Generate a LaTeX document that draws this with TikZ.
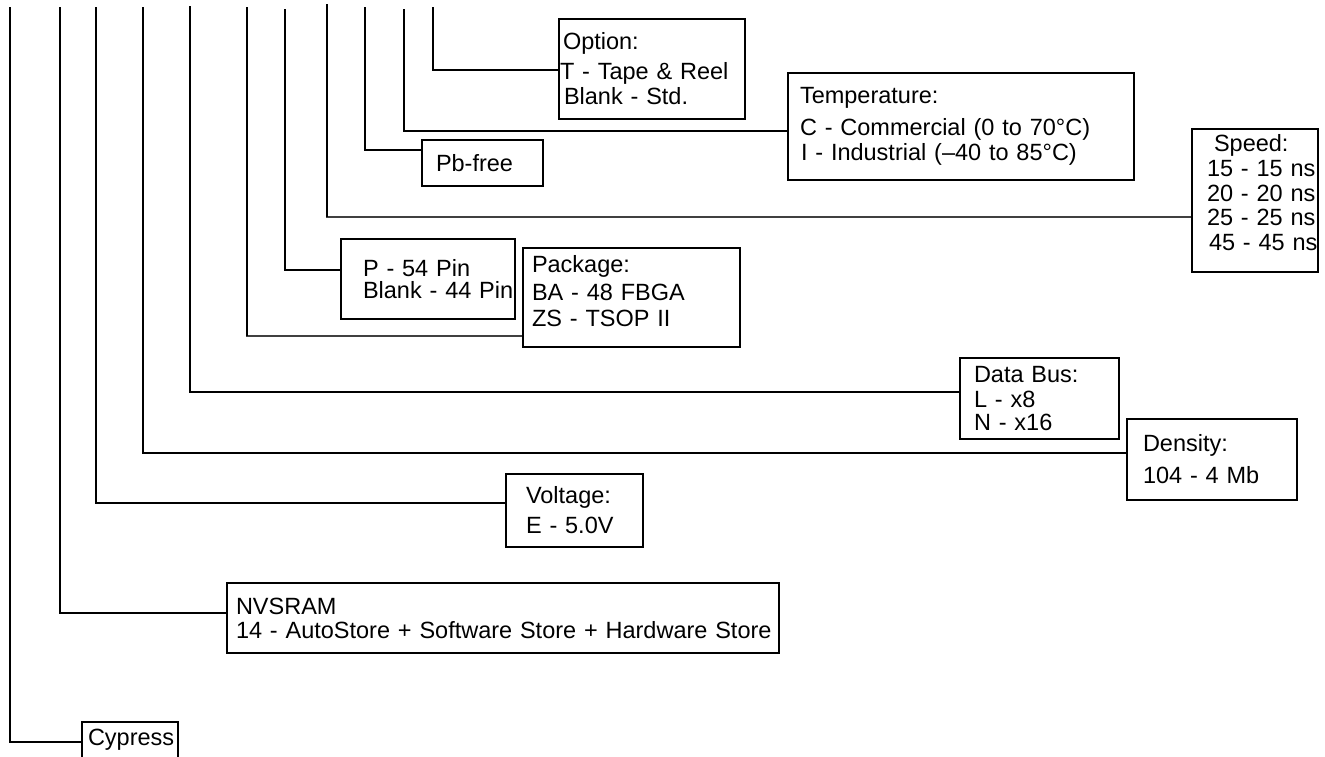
\documentclass[tikz,border=0pt]{standalone}
\usepackage{fontspec}
\setmainfont{Liberation Sans}

\def\rulewd{2.5pt}
\def\pad#1{\hspace*{#1pt}}

\begin{document}
\begin{tikzpicture}[x=1pt,y=-1pt,line width=\rulewd,
	every node/.append style={font=\fontsize{23.5}{25}\selectfont}]
    \tikzstyle{field}=[draw=black,rectangle,align=left,inner sep=0pt,line width=\rulewd]
    \tikzstyle{lead}=[draw=black,line width=\rulewd]
    \tikzstyle{thin lead}=[lead,line width=1.2pt,draw=black!75]

    \useasboundingbox (0,0) rectangle (1325,756);

    % Tops of the leads, left to right
    \foreach \name/\x/\y in {cy/10/7,nv/60/7,vo/96/7,de/143/7,db/190/6,pk/247/7,pn/285/9,sp/327/4,pb/365/7,te/404/9,op/433/7}
        \coordinate (top-\name) at (\x,\y);

    % Draw the field boxes
    \node[field, text width=186pt, minimum height=100pt] (option) at (652,69)
        {\pad{4}Option:\\[5pt]\pad{1}T - Tape \& Reel\\ \pad{5}Blank - Std.};
    \node[field, text width=346pt, minimum height=107pt] (temp) at (961,126.5)
        {\pad{12}Temperature:\\[7pt]\pad{12}C - Commercial (0 to 70°C)\\ \pad{13}I - Industrial (–40 to 85°C)};
    \node[field, text width=121pt, minimum height=46pt] (pbfree) at (482.5,163) {\pad{14}Pb-free};
    \node[field, text width=126pt, minimum height=143pt, text depth=115pt] (speed) at (1255,200.5)
        {\pad{22}Speed:\\ \pad{15}15 - 15 ns\\ \pad{15}20 - 20 ns\\[-1pt]
         \pad{15}25 - 25 ns\\ \pad{17}45 - 45 ns};
    \node[field, text width=174pt, minimum height=80pt] (pins) at (428,279)
        {\pad{22}P - 54 Pin\\[-3.5pt]\pad{22}Blank - 44 Pin};
    \node[field, text width=217pt, minimum height=99pt, text depth=68pt] (package) at (631.5,297.5)
        {\pad{9}Package:\\[3pt]\pad{9}BA - 48 FBGA\\[1pt]\pad{9}ZS - TSOP II};
    \node[field, text width=159pt, minimum height=81pt] (databus) at (1039.5,398.5)
        {\pad{14}Data Bus:\\ \pad{14}L - x8\\[-2pt]\pad{14}N - x16};
    \node[field, text width=170pt, minimum height=81pt] (density) at (1212,459.5)
        {\pad{16}Density:\\[7pt]\pad{16}104 - 4 Mb};
    \node[field, text width=137pt, minimum height=73pt] (voltage) at (574.5,510.5)
        {\pad{20}Voltage:\\[5pt]\pad{20}E - 5.0V};
    \node[field, text width=552pt, minimum height=70pt] (nvsram) at (503,618)
        {\pad{9}NVSRAM\\[-1pt]\pad{9}14 - AutoStore + Software Store + Hardware Store};
    \node[field, text width=96pt, minimum height=36pt] (cypress) at (130,740) {\pad{6}Cypress};

    % Connect every lead to its field
    \draw[lead] (top-op) |- (option.west |- 0,70);
    \draw[lead] (top-te) |- (temp.west |- 0,131);
    \draw[lead] (top-pb) |- (pbfree.west |- 0,150);
    \draw[thin lead] (top-sp) -- (327,217) -- (speed.west |- 0,217);
    \draw[lead] (top-sp) -- (327,217);
    \draw[lead] (top-pn) |- (pins.west |- 0,270);
    \draw[thin lead] (top-pk) -- (247,336) -- (package.west |- 0,336);
    \draw[lead] (top-pk) -- (247,336);
    \draw[lead] (top-db) |- (databus.west |- 0,392);
    \draw[lead] (top-de) |- (density.west |- 0,453);
    \draw[lead] (top-vo) |- (voltage.west |- 0,503);
    \draw[lead] (top-nv) |- (nvsram.west |- 0,613);
    \draw[lead] (top-cy) |- (cypress.west |- 0,742);
\end{tikzpicture}
\end{document}
